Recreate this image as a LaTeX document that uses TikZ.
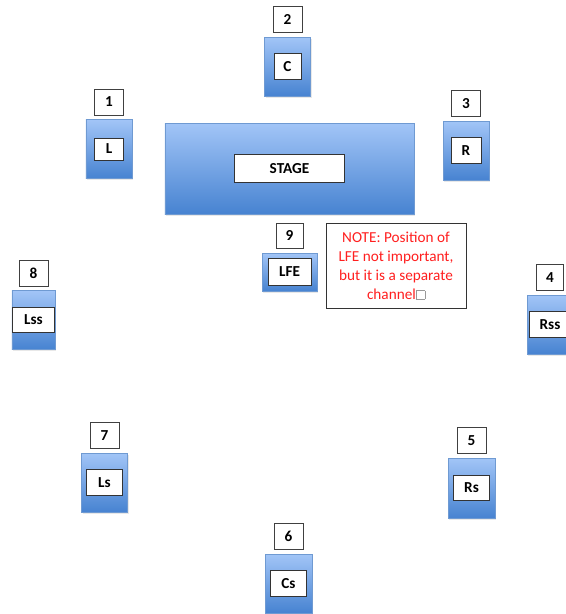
\documentclass[tikz,border=0pt]{standalone}
\usepackage{fontspec}
\setmainfont{Carlito}
\usepackage{tikz}
\usetikzlibrary{positioning, shadows}
\usepackage{xcolor}
\definecolor{spk-top}{HTML}{A2C5F7}
\definecolor{spk-bot}{HTML}{4783D1}
\definecolor{spk-edge}{HTML}{6F9AD2}
\definecolor{note-red}{HTML}{FF1F1F}

\tikzset{
  spk/.style={draw=spk-edge, line width=0.5pt, top color=spk-top, bottom color=spk-bot,
    minimum width=1.38cm, minimum height=1.77cm, inner sep=0pt,
    drop shadow={shadow xshift=0.04cm, shadow yshift=-0.05cm, opacity=0.18}},
  tag/.style={draw=black!80, fill=white, line width=0.7pt, minimum width=1.08cm,
    minimum height=0.8cm, inner sep=0pt, font=\fontsize{13}{15}\selectfont\bfseries},
  num/.style={draw=black!75, fill=white, line width=0.6pt, minimum width=0.87cm,
    minimum height=0.78cm, inner sep=0pt, font=\fontsize{13}{15}\selectfont\bfseries},
}

\begin{document}
\begin{tikzpicture}[x=0.03cm, y=-0.03cm, node distance=0.12cm]
						\useasboundingbox (0,0) rectangle (566,614);
						\clip (0,0) rectangle (566,614);
						% stage
						\node[spk, minimum width=7.47cm, minimum height=2.73cm] (stage) at (289.5,168.5) {};
						\node[tag, minimum width=3.3cm, minimum height=0.84cm] (stagetag) at (stage) {STAGE};
						% speakers
						\node[spk] (C) at (287.5,66.5) {};
						\node[spk] (L) at (109,149) {};
						\node[spk] (R) at (466,150.5) {};
						\node[spk, minimum width=1.65cm, minimum height=1.14cm] (LFE) at (289.5,272) {};
						\node[spk, minimum width=1.29cm] (Lss) at (33.5,320) {};
						\node[spk] (Rss) at (550,324.5) {};
						\node[spk, minimum width=1.41cm, minimum height=1.8cm] (Rs) at (471.5,488) {};
						\node[spk] (Ls) at (104.5,482.5) {};
						\node[spk, minimum width=1.41cm] (Cs) at (288.5,583.5) {};
						% names
						\node[tag, minimum width=0.81cm] (c) at (C) {C};
						\node[tag, minimum width=0.87cm, minimum height=0.66cm] (l) at (L) {L};
						\node[tag, minimum width=0.9cm, minimum height=0.78cm] (r) at (R) {R};
						\node[tag, minimum width=1.29cm] (lfe) at (LFE) {LFE};
						\node[tag, minimum width=1.26cm, minimum height=0.75cm] (lss) at (Lss) {Lss};
						\node[tag, minimum width=1.26cm] (rss) at (Rss) {Rss};
						\node[tag, minimum height=0.75cm] (rs) at (Rs) {Rs};
						\node[tag] (ls) at (Ls) {Ls};
						\node[tag] (cs) at (Cs) {Cs};
						% numbers
						\node[num, above =of L] (n1) {1};
						\node[num, above =of C] (n2) {2};
						\node[num, above =of R] (n3) {3};
						\node[num, minimum width=0.8cm, above =of Rss] (n4) {4};
						\node[num, above =of Rs] (n5) {5};
						\node[num, above =of Cs] (n6) {6};
						\node[num, above =of Ls] (n7) {7};
						\node[num, above =of Lss] (n8) {8};
						\node[num, minimum width=0.81cm, minimum height=0.75cm, above =of LFE] (n9) {9};
						% note
						\node[draw=black!80, line width=0.7pt, fill=white, text=note-red, align=center,
							minimum width=4.2cm, minimum height=2.55cm, inner sep=0pt,
							font=\fontsize{13}{16.2}\selectfont] (note) at (396,265.5)
							{NOTE: Position of\\LFE not important,\\but it is a separate\\channel{\color{black!40}\setlength\fboxsep{0pt}\fbox{\rule{0pt}{7pt}\rule{7pt}{0pt}}}};
					\end{tikzpicture}
\end{document}
